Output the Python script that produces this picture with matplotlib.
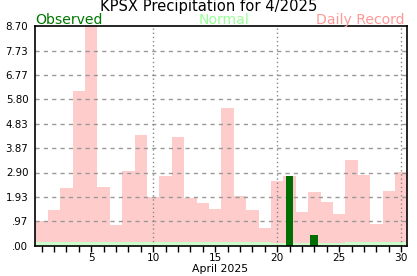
import matplotlib
matplotlib.use("Agg")
import matplotlib.pyplot as plt
import numpy as np

days = list(range(1, 31))
record = [0.98, 1.40, 2.28, 6.14, 8.70, 2.32, 0.81, 2.95, 4.38, 1.92,
          2.75, 4.31, 1.88, 1.68, 1.44, 5.46, 1.96, 1.40, 0.69, 2.55,
          2.75, 1.33, 2.12, 1.72, 1.25, 3.39, 2.79, 0.85, 2.16, 2.91]
normal = [0.13] * 19 + [0.09] * 6 + [0.13] * 5
observed = [0] * 20 + [2.75, 0, 0.41] + [0] * 7
ytick_vals = [0.00, 0.97, 1.93, 2.90, 3.87, 4.83, 5.80, 6.77, 7.73, 8.70]
ytick_labels = [".00", ".97", "1.93", "2.90", "3.87", "4.83", "5.80", "6.77", "7.73", "8.70"]
xtick_major = [5, 10, 15, 20, 25, 30]
vlines = [10, 20, 30]

W, H = 417, 276
fig = plt.figure(figsize=(W / 100, H / 100), dpi=100)
ax = fig.add_axes([35.3 / W, 1 - 245.7 / H, (407.3 - 35.3) / W, (245.7 - 26.1) / H])

ax.bar(days, record, width=1.0, color="#ffcccc", zorder=1, linewidth=0)
ax.bar(days, normal, width=1.0, color="#ccffcc", zorder=2, linewidth=0)
ax.bar(days, observed, width=0.62, color="#006e00", zorder=4, linewidth=0)

ax.set_xlim(0.5, 30.5)
ax.set_ylim(0, 8.70)

for v in ytick_vals[1:-1]:
    ax.axhline(v, color="#999999", linestyle=(0, (3, 3)), linewidth=1.0, zorder=3)
for d in vlines:
    ax.axvline(d, color="#888888", linestyle=(0, (1, 2)), linewidth=1.0, zorder=3)

ax.set_yticks(ytick_vals)
ax.set_yticklabels(ytick_labels, fontsize=7.4)
ax.tick_params(axis="y", length=0, pad=5)

ax.set_xticks(xtick_major)
ax.set_xticklabels([str(d) for d in xtick_major], fontsize=7.6)
ax.set_xticks(days, minor=True)
ax.tick_params(axis="x", which="both", direction="out", length=4, width=1, pad=1)

for s in ax.spines.values():
    s.set_linewidth(1.2)
    s.set_color("black")
    s.set_zorder(5)

fig.text(0.5, 1 - 11.5 / H, "KPSX Precipitation for 4/2025", ha="center", va="baseline",
         fontsize=10.6, color="black")
fig.text(35.5 / W, 1 - 24.3 / H, "Observed", ha="left", va="baseline", fontsize=10.1, color="#007700")
fig.text(223.8 / W, 1 - 24.3 / H, "Normal", ha="center", va="baseline", fontsize=10.1, color="#99ff99")
fig.text(404 / W, 1 - 24.3 / H, "Daily Record", ha="right", va="baseline", fontsize=10.1, color="#ff9999")
fig.text(220 / W, 1 - 271.5 / H, "April 2025", ha="center", va="baseline", fontsize=7.8, color="black")

fig.savefig("out.png", dpi=100)
